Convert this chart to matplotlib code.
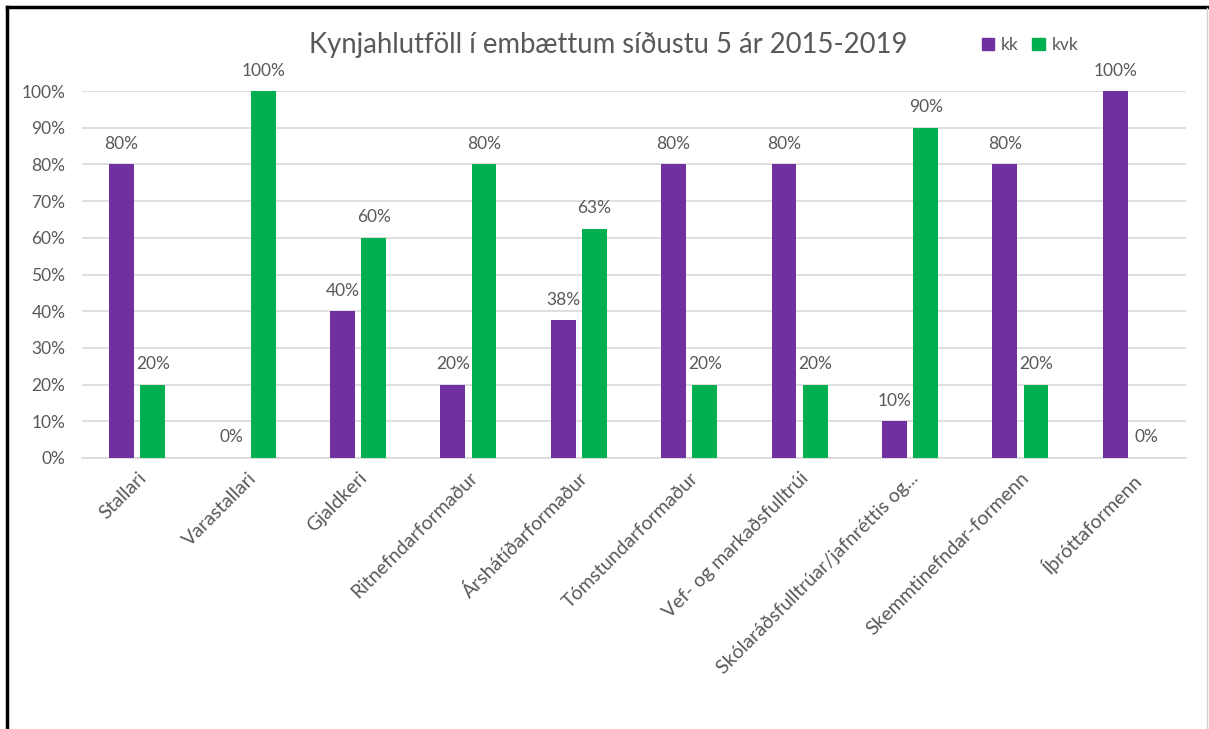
import matplotlib.pyplot as plt
from matplotlib.lines import Line2D
from matplotlib.patches import Patch
import numpy as np

plt.rcParams['font.family'] = ['Lato', 'DejaVu Sans']

categories = ["Stallari", "Varastallari", "Gjaldkeri", "Ritnefndarformaður",
              "Árshátíðarformaður", "Tómstundarformaður", "Vef- og markaðsfulltrúi",
              "Skólaráðsfulltrúar/jafnréttis og...", "Skemmtinefndar-formenn",
              "Íþróttaformenn"]
kk = [80, 0, 40, 20, 37.5, 80, 80, 10, 80, 100]
kvk = [20, 100, 60, 80, 62.5, 20, 20, 90, 20, 0]
kk_labels = ["80%", "0%", "40%", "20%", "38%", "80%", "80%", "10%", "80%", "100%"]
kvk_labels = ["20%", "100%", "60%", "80%", "63%", "20%", "20%", "90%", "20%", "0%"]

purple = "#7030A0"
green = "#00B050"
grey = "#595959"

fig = plt.figure(figsize=(12.09, 7.29), dpi=100)
ax = fig.add_axes([82/1209, 1 - 458/729, (1186-82)/1209, (458-91)/729])

x = np.arange(len(categories))
w = 0.225
off = 0.142
b1 = ax.bar(x - off, kk, w, color=purple, zorder=3)
b2 = ax.bar(x + off, kvk, w, color=green, zorder=3)

for bars, labs in ((b1, kk_labels), (b2, kvk_labels)):
    for rect, lab in zip(bars, labs):
        ax.annotate(lab, (rect.get_x() + rect.get_width()/2, rect.get_height()),
                    xytext=(0, 9), textcoords="offset points", ha="center",
                    va="bottom", fontsize=12.5, color=grey)

ax.set_xlim(-0.5, len(categories) - 0.5)
ax.set_ylim(0, 100)
ax.set_yticks(range(0, 101, 10))
ax.set_yticklabels([f"{v}%" for v in range(0, 101, 10)])
ax.set_xticks(x)
ax.set_xticklabels(categories, rotation=45, ha="right", rotation_mode="anchor")
ax.tick_params(axis="y", length=0, labelsize=12.5, labelcolor=grey, pad=12)
ax.tick_params(axis="x", length=0, labelsize=14, labelcolor=grey, pad=8)
ax.grid(axis="y", color="#D9D9D9", linewidth=1.2, zorder=0)
for s in ("top", "right", "left"):
    ax.spines[s].set_visible(False)
ax.spines["bottom"].set_color("#D9D9D9")
ax.spines["bottom"].set_linewidth(1.2)

fig.text(608/1209, 1 - 45/729, "Kynjahlutföll í embættum síðustu 5 ár 2015-2019",
         ha="center", va="center", fontsize=19.8, color=grey)

handles = [Patch(color=purple, label="kk"), Patch(color=green, label="kvk")]
fig.legend(handles=handles, loc="center", bbox_to_anchor=(1030/1209, 1 - 45/729),
           ncol=2, frameon=False, fontsize=12.5, handlelength=0.7, handleheight=0.7,
           handletextpad=0.4, columnspacing=0.8, labelcolor=grey)

# outer frame
fig.add_artist(Line2D([7/1209, 7/1209], [0, 1 - 7/729], color="black", lw=2.5))
fig.add_artist(Line2D([7/1209, 1], [1 - 7/729, 1 - 7/729], color="black", lw=2.5))
fig.add_artist(Line2D([1207/1209, 1207/1209], [0, 1 - 8/729], color="#D0D0D0", lw=1))

fig.savefig("out.png", dpi=100)
